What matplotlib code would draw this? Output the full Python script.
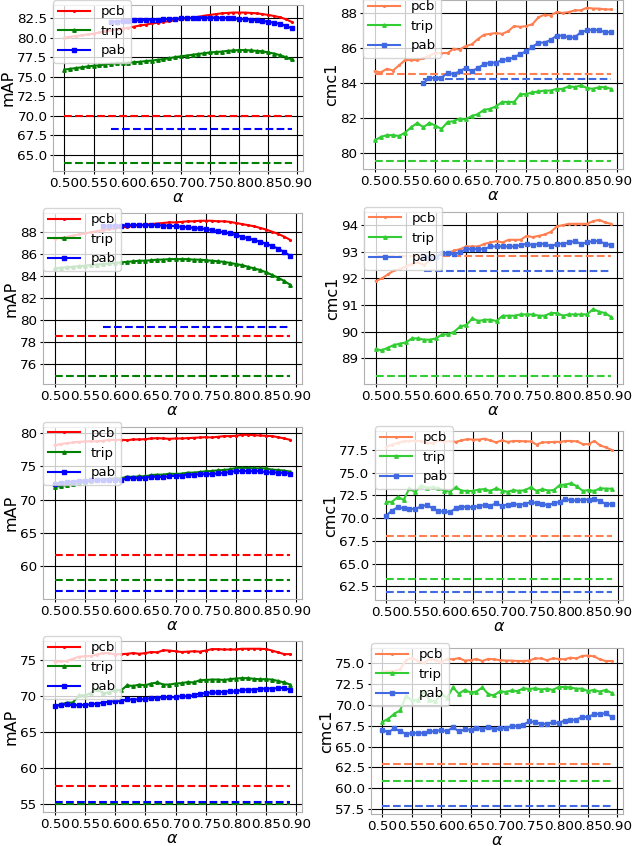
import numpy as np
import matplotlib.pyplot as plt
from matplotlib.ticker import MultipleLocator

alpha = np.arange(50, 90) / 100

# row 1
map1_pcb = [80.0, 80.1, 80.2, 80.3, 80.4, 80.5, 80.65, 80.8, 80.95, 81.05,
            81.15, 81.25, 81.4, 81.55, 81.65, 81.8, 81.9, 82.0, 82.1, 82.25,
            82.4, 82.45, 82.55, 82.65, 82.8, 82.9, 83.0, 83.1, 83.15, 83.2,
            83.2, 83.2, 83.15, 83.1, 83.0, 82.9, 82.75, 82.6, 82.35, 82.0]
map1_trip = [75.9, 76.0, 76.1, 76.2, 76.3, 76.4, 76.45, 76.55, 76.65, 76.7,
             76.75, 76.8, 76.85, 76.9, 77.0, 77.05, 77.15, 77.25, 77.35, 77.5,
             77.6, 77.7, 77.8, 77.9, 78.0, 78.1, 78.15, 78.2, 78.3, 78.35,
             78.4, 78.4, 78.35, 78.3, 78.25, 78.1, 77.95, 77.75, 77.5, 77.2]
map1_pab = [82.0, 82.05, 82.1, 82.15, 82.2, 82.2, 82.25, 82.3, 82.3, 82.35,
            82.4, 82.4, 82.45, 82.5, 82.5, 82.5, 82.55, 82.55, 82.55, 82.5,
            82.5, 82.45, 82.4, 82.35, 82.3, 82.2, 82.15, 82.0, 81.9, 81.75,
            81.5, 81.2]
map1_base = [70.0, 63.9, 68.35]

cmc1_pcb = [84.65, 84.6, 84.8, 84.7, 85.0, 85.3, 85.3, 85.3, 85.4, 85.55,
            85.7, 85.7, 85.7, 85.95, 85.9, 86.1, 86.2, 86.5, 86.75, 86.8,
            86.85, 86.8, 86.95, 87.25, 87.2, 87.25, 87.35, 87.75, 87.9, 87.85,
            88.05, 88.0, 88.05, 88.15, 88.15, 88.3, 88.25, 88.25, 88.2, 88.2]
cmc1_trip = [80.7, 80.9, 81.0, 81.0, 80.95, 81.15, 81.45, 81.7, 81.45, 81.7,
             81.55, 81.35, 81.75, 81.8, 81.95, 81.9, 82.1, 82.2, 82.45, 82.5,
             82.65, 82.9, 82.9, 82.9, 83.35, 83.35, 83.45, 83.5, 83.55, 83.55,
             83.65, 83.65, 83.8, 83.75, 83.85, 83.7, 83.65, 83.75, 83.75, 83.65]
cmc1_pab = [84.0, 84.25, 84.3, 84.3, 84.55, 84.5, 84.65, 84.85, 84.65, 84.85,
            85.05, 85.15, 85.15, 85.3, 85.35, 85.45, 85.65, 85.8, 86.05, 86.3,
            86.3, 86.45, 86.7, 86.7, 86.6, 86.6, 86.9, 87.0, 87.05, 87.0,
            86.9, 86.9]
cmc1_base = [84.48, 79.5, 84.2]

# row 2
map2_pcb = [87.4, 87.5, 87.6, 87.7, 87.8, 87.9, 88.0, 88.1, 88.2, 88.3,
            88.35, 88.45, 88.5, 88.6, 88.65, 88.7, 88.75, 88.8, 88.85, 88.9,
            88.9, 88.95, 89.0, 89.0, 89.05, 89.05, 89.05, 89.0, 89.0, 88.95,
            88.85, 88.75, 88.65, 88.55, 88.4, 88.25, 88.05, 87.85, 87.6, 87.3]
map2_trip = [84.7, 84.75, 84.8, 84.85, 84.9, 84.95, 85.0, 85.05, 85.1, 85.15,
             85.2, 85.25, 85.3, 85.35, 85.4, 85.4, 85.45, 85.5, 85.5, 85.55,
             85.55, 85.55, 85.55, 85.5, 85.5, 85.45, 85.4, 85.35, 85.3, 85.2,
             85.1, 85.0, 84.85, 84.7, 84.55, 84.35, 84.1, 83.85, 83.55, 83.2]
map2_pab = [88.55, 88.6, 88.6, 88.6, 88.65, 88.65, 88.65, 88.65, 88.65, 88.65,
            88.6, 88.6, 88.55, 88.5, 88.45, 88.4, 88.35, 88.3, 88.2, 88.1,
            88.0, 87.9, 87.75, 87.6, 87.45, 87.3, 87.15, 86.95, 86.75, 86.5,
            86.2, 85.85]
map2_base = [78.5, 74.85, 79.35]

cmc2_pcb = [91.9, 92.0, 92.15, 92.3, 92.35, 92.45, 92.55, 92.6, 92.5, 92.7,
            92.85, 92.9, 92.95, 93.05, 93.1, 93.2, 93.2, 93.2, 93.3, 93.35,
            93.4, 93.35, 93.45, 93.45, 93.45, 93.6, 93.55, 93.6, 93.65, 93.75,
            93.95, 94.0, 94.05, 94.05, 94.05, 94.05, 94.15, 94.2, 94.1, 94.05]
cmc2_trip = [89.35, 89.3, 89.4, 89.5, 89.55, 89.6, 89.75, 89.75, 89.7, 89.7,
             89.75, 89.9, 89.9, 90.0, 90.2, 90.25, 90.5, 90.4, 90.45, 90.45,
             90.4, 90.6, 90.6, 90.6, 90.65, 90.65, 90.65, 90.6, 90.6, 90.7,
             90.7, 90.6, 90.65, 90.65, 90.65, 90.65, 90.85, 90.75, 90.7, 90.55]
cmc2_pab = [92.8, 92.75, 92.8, 92.95, 92.95, 92.9, 93.0, 93.1, 93.1, 93.1,
            93.1, 93.2, 93.2, 93.2, 93.2, 93.2, 93.25, 93.3, 93.25, 93.3,
            93.3, 93.2, 93.3, 93.3, 93.35, 93.4, 93.3, 93.35, 93.4, 93.4,
            93.3, 93.25]
cmc2_base = [92.85, 88.33, 92.28]

# row 3
map3_pcb = [78.2, 78.35, 78.5, 78.6, 78.7, 78.75, 78.8, 78.75, 78.85, 79.0,
            79.0, 79.0, 78.95, 79.05, 79.05, 79.1, 79.2, 79.25, 79.2, 79.15,
            79.2, 79.2, 79.25, 79.3, 79.35, 79.4, 79.35, 79.45, 79.55, 79.55,
            79.6, 79.75, 79.75, 79.7, 79.65, 79.6, 79.55, 79.4, 79.2, 79.0]
map3_trip = [71.9, 72.05, 72.2, 72.35, 72.5, 72.65, 72.75, 72.9, 72.95, 73.15,
             73.2, 73.2, 73.45, 73.4, 73.5, 73.5, 73.7, 73.75, 73.75, 73.9,
             73.85, 73.9, 74.05, 74.05, 74.15, 74.25, 74.3, 74.4, 74.45, 74.55,
             74.75, 74.8, 74.75, 74.7, 74.7, 74.7, 74.5, 74.45, 74.35, 74.2]
map3_pab = [72.4, 72.5, 72.6, 72.7, 72.8, 72.85, 72.9, 73.0, 72.95, 72.9,
            72.95, 72.9, 73.2, 73.25, 73.2, 73.3, 73.4, 73.45, 73.35, 73.55,
            73.55, 73.6, 73.75, 73.75, 73.8, 73.85, 73.85, 73.95, 74.0, 74.15,
            74.3, 74.3, 74.3, 74.25, 74.3, 74.1, 74.1, 74.05, 74.0, 73.9]
map3_base = [61.6, 57.85, 56.2]

cmc3_pcb = [77.85, 78.1, 78.3, 78.45, 78.5, 78.5, 78.5, 78.3, 78.25, 78.55,
            78.4, 78.5, 78.4, 78.55, 78.7, 78.65, 78.65, 78.75, 78.55, 78.35,
            78.55, 78.4, 78.5, 78.5, 78.45, 78.45, 78.1, 78.35, 78.35, 78.4,
            78.4, 78.5, 78.5, 78.45, 78.15, 78.15, 78.5, 78.0, 77.8, 77.5]
cmc3_trip = [71.8, 71.8, 72.35, 72.0, 73.3, 72.85, 73.6, 73.35, 73.4, 73.3,
             73.05, 72.9, 73.4, 73.05, 73.0, 73.0, 73.15, 73.2, 73.0, 73.3,
             73.05, 72.9, 73.1, 73.0, 73.1, 73.4, 73.0, 73.2, 73.05, 73.1,
             73.65, 73.7, 73.85, 73.5, 73.0, 73.1, 73.0, 73.3, 73.25, 73.25]
cmc3_pab = [70.3, 70.85, 71.2, 71.1, 71.05, 71.0, 71.3, 71.45, 71.1, 70.75,
            70.75, 70.65, 71.1, 71.25, 71.25, 71.2, 71.35, 71.45, 71.35, 71.65,
            71.35, 71.5, 71.55, 71.5, 71.55, 71.8, 71.65, 71.55, 71.45, 71.65,
            71.8, 72.1, 71.95, 71.95, 72.05, 72.05, 72.1, 71.9, 71.55, 71.55]
cmc3_base = [68.05, 63.3, 61.85]

# row 4
map4_pcb = [74.8, 74.85, 74.9, 75.2, 75.5, 75.55, 75.6, 75.8, 76.0, 76.0,
            75.8, 75.85, 75.9, 76.0, 75.9, 76.0, 76.15, 76.1, 76.4, 76.35,
            76.25, 76.15, 76.2, 76.25, 76.2, 76.35, 76.55, 76.55, 76.5, 76.5,
            76.5, 76.6, 76.6, 76.6, 76.6, 76.55, 76.35, 76.1, 75.85, 75.85]
map4_trip = [68.6, 68.85, 69.05, 69.1, 70.1, 70.1, 70.4, 71.0, 70.4, 70.5,
             70.9, 70.8, 71.5, 71.4, 71.6, 71.5, 71.75, 71.9, 71.6, 71.6,
             71.75, 71.8, 71.95, 71.9, 72.2, 72.25, 72.3, 72.3, 72.25, 72.35,
             72.45, 72.5, 72.5, 72.4, 72.35, 72.35, 72.3, 72.1, 71.9, 71.6]
map4_pab = [68.55, 68.75, 68.85, 68.7, 68.75, 68.75, 68.85, 68.95, 69.1, 69.2,
            69.3, 69.3, 69.55, 69.5, 69.55, 69.55, 69.75, 69.75, 69.85, 69.8,
            69.85, 70.0, 69.95, 70.1, 70.35, 70.4, 70.5, 70.5, 70.6, 70.65,
            70.65, 70.85, 70.9, 70.9, 71.0, 71.05, 71.05, 71.1, 71.15, 70.85]
map4_base = [57.5, 54.9, 55.15]

cmc4_pcb = [73.9, 74.0, 74.0, 74.2, 75.3, 75.6, 75.2, 74.95, 75.4, 75.35,
            75.05, 75.45, 75.4, 75.55, 75.25, 75.3, 75.45, 75.2, 75.45, 75.4,
            75.3, 75.25, 75.25, 75.2, 75.2, 75.25, 75.5, 75.5, 75.3, 75.5,
            75.45, 75.4, 75.6, 75.5, 75.8, 75.85, 75.75, 75.4, 75.2, 75.2]
cmc4_trip = [67.95, 68.3, 68.9, 69.3, 71.0, 70.55, 70.5, 71.6, 70.5, 70.4,
             71.3, 70.8, 72.05, 71.3, 71.75, 71.45, 71.55, 72.05, 71.25, 71.1,
             71.6, 71.5, 71.7, 71.6, 71.95, 71.85, 71.95, 71.8, 71.9, 71.75,
             72.1, 72.1, 72.05, 71.9, 71.9, 71.6, 71.75, 71.55, 71.75, 71.4]
cmc4_pab = [67.0, 66.7, 67.15, 66.85, 66.5, 66.6, 66.6, 66.6, 66.8, 66.8,
            67.0, 66.8, 67.3, 66.8, 67.05, 67.0, 67.25, 67.05, 67.35, 67.05,
            67.15, 67.2, 67.45, 67.45, 67.6, 68.0, 67.9, 67.7, 67.7, 67.9,
            67.8, 68.1, 68.15, 68.2, 68.55, 68.5, 68.85, 68.9, 68.95, 68.55]
cmc4_base = [62.95, 60.85, 57.85]

names = ['pcb', 'trip', 'pab']
markers = ['.', '^', 's']
left_colors = ['red', 'green', 'blue']
right_colors = ['coral', 'limegreen', 'royalblue']

panels = [
    ([map1_pcb, map1_trip, map1_pab], map1_base, 'mAP', left_colors, 2.5),
    ([cmc1_pcb, cmc1_trip, cmc1_pab], cmc1_base, 'cmc1', right_colors, 2),
    ([map2_pcb, map2_trip, map2_pab], map2_base, 'mAP', left_colors, 2),
    ([cmc2_pcb, cmc2_trip, cmc2_pab], cmc2_base, 'cmc1', right_colors, 1),
    ([map3_pcb, map3_trip, map3_pab], map3_base, 'mAP', left_colors, 5),
    ([cmc3_pcb, cmc3_trip, cmc3_pab], cmc3_base, 'cmc1', right_colors, 2.5),
    ([map4_pcb, map4_trip, map4_pab], map4_base, 'mAP', left_colors, 5),
    ([cmc4_pcb, cmc4_trip, cmc4_pab], cmc4_base, 'cmc1', right_colors, 2.5),
]

# axes boxes in pixels: left, top, right, bottom
boxes = [(53, 5, 303, 171), (363, 0, 623, 169),
         (43, 213, 302, 384), (364, 212, 623, 384),
         (43, 427, 302, 599), (375, 431, 623, 600),
         (43, 641, 302, 812), (371, 648, 623, 814)]

W, H = 632, 846
fig = plt.figure(figsize=(W / 100, H / 100), dpi=100)

for (series, base, ylab, colors, step), (l, t, r, b) in zip(panels, boxes):
    ax = fig.add_axes([l / W, 1 - b / H, (r - l) / W, (b - t) / H])
    for ys, bl, name, mk, c in zip(series, base, names, markers, colors):
        xs = alpha[len(alpha) - len(ys):]
        ax.plot(xs, ys, color=c, marker=mk, markersize=2.5, linewidth=1.5, label=name)
        ax.plot(xs, [bl] * len(xs), color=c, linestyle='--', linewidth=1.5)
    ax.set_xticks(np.arange(50, 91, 5) / 100)
    ax.yaxis.set_major_locator(MultipleLocator(step))
    ax.grid(True, color='black', linewidth=0.8)
    for s in ax.spines.values():
        s.set_color('#b0b0b0')
    ax.tick_params(labelsize=9.7, length=2, pad=2)
    ax.set_xlabel(r'$\alpha$', fontsize=11.5, labelpad=0)
    ax.set_ylabel(ylab, fontsize=11.5, labelpad=1)
    ax.legend(loc='upper left', bbox_to_anchor=(0, 1.03), borderaxespad=0,
              fontsize=9.5, handlelength=2.4)

fig.savefig('out.png', dpi=100)
